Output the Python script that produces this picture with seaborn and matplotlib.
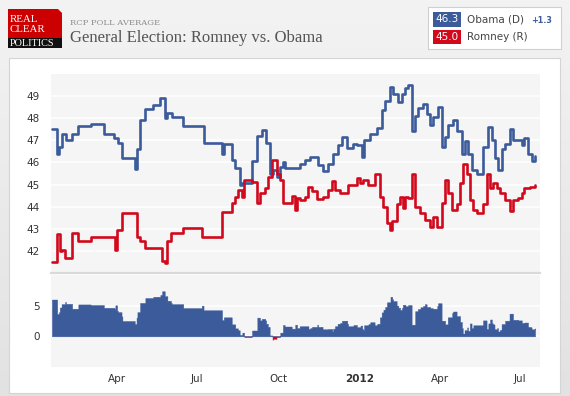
import numpy as np
import pandas as pd
import matplotlib
matplotlib.use("Agg")
import matplotlib.pyplot as plt
from matplotlib.patches import Rectangle, Polygon
import seaborn as sns

# RCP poll average, step breakpoints (date the value starts)
obama_dates = [
    "2011-01-17", "2011-01-23", "2011-01-25", "2011-01-28", "2011-02-02", "2011-02-09",
    "2011-02-16", "2011-03-02", "2011-03-17", "2011-03-29", "2011-04-02", "2011-04-06",
    "2011-04-21", "2011-04-24", "2011-04-27", "2011-05-03", "2011-05-12", "2011-05-20",
    "2011-05-25", "2011-05-28", "2011-06-02", "2011-06-15", "2011-07-08", "2011-07-29",
    "2011-07-31", "2011-08-09", "2011-08-13", "2011-08-18", "2011-08-21", "2011-09-01",
    "2011-09-07", "2011-09-12", "2011-09-17", "2011-09-21", "2011-09-25", "2011-09-29",
    "2011-10-03", "2011-10-06", "2011-10-08", "2011-10-25", "2011-10-31", "2011-11-06",
    "2011-11-15", "2011-11-20", "2011-11-26", "2011-12-02", "2011-12-07", "2011-12-12",
    "2011-12-18", "2011-12-25", "2011-12-29", "2012-01-04", "2012-01-06", "2012-01-13",
    "2012-01-21", "2012-01-26", "2012-01-30", "2012-02-05", "2012-02-08", "2012-02-14",
    "2012-02-18", "2012-02-22", "2012-02-25", "2012-02-29", "2012-03-04", "2012-03-07",
    "2012-03-13", "2012-03-17", "2012-03-21", "2012-03-24", "2012-03-30", "2012-04-03",
    "2012-04-07", "2012-04-10", "2012-04-16", "2012-04-20", "2012-04-26", "2012-04-29",
    "2012-05-03", "2012-05-07", "2012-05-13", "2012-05-20", "2012-05-26", "2012-05-30",
    "2012-06-02", "2012-06-06", "2012-06-10", "2012-06-14", "2012-06-19", "2012-06-23",
    "2012-07-03", "2012-07-06", "2012-07-10", "2012-07-14", "2012-07-18",
]
obama_vals = [
    47.5, 46.4, 46.7, 47.3, 47.0, 47.3,
    47.65, 47.75, 47.3, 47.1, 46.9, 46.2,
    45.7, 46.6, 47.9, 48.4, 48.6, 48.9,
    48.0, 48.25, 48.05, 47.65, 46.9, 46.4,
    46.85, 46.1, 45.75, 45.0, 45.05, 46.05,
    47.2, 47.45, 46.9, 45.5, 45.65, 45.35,
    45.8, 46.0, 45.75, 45.95, 46.1, 46.25,
    45.9, 45.6, 45.95, 46.4, 46.8, 47.15,
    46.65, 46.85, 46.8, 46.25, 47.0, 47.3,
    47.55, 48.35, 48.8, 49.4, 49.1, 48.75,
    49.1, 49.35, 49.5, 47.4, 48.1, 48.45,
    48.65, 48.2, 47.7, 48.05, 48.5, 46.7,
    47.15, 47.7, 47.9, 47.4, 46.4, 46.95,
    46.4, 45.65, 45.5, 46.7, 47.6, 47.0,
    46.2, 45.65, 46.6, 46.85, 47.5, 47.0,
    46.8, 47.1, 46.4, 46.05, 46.3,
]
romney_dates = [
    "2011-01-17", "2011-01-23", "2011-01-26", "2011-01-28", "2011-02-01", "2011-02-09",
    "2011-02-16", "2011-03-02", "2011-03-30", "2011-04-01", "2011-04-07", "2011-04-23",
    "2011-04-27", "2011-05-03", "2011-05-22", "2011-05-25", "2011-05-28", "2011-06-01",
    "2011-06-15", "2011-07-06", "2011-07-29", "2011-08-09", "2011-08-13", "2011-08-16",
    "2011-08-21", "2011-08-23", "2011-09-01", "2011-09-07", "2011-09-10", "2011-09-16",
    "2011-09-19", "2011-09-24", "2011-09-29", "2011-10-03", "2011-10-06", "2011-10-16",
    "2011-10-20", "2011-10-22", "2011-10-25", "2011-10-31", "2011-11-04", "2011-11-08",
    "2011-11-14", "2011-11-20", "2011-11-26", "2011-12-01", "2011-12-04", "2011-12-10",
    "2011-12-19", "2011-12-29", "2012-01-02", "2012-01-05", "2012-01-11", "2012-01-18",
    "2012-01-24", "2012-01-28", "2012-02-01", "2012-02-05", "2012-02-07", "2012-02-12",
    "2012-02-16", "2012-02-19", "2012-02-22", "2012-02-25", "2012-02-29", "2012-03-04",
    "2012-03-10", "2012-03-15", "2012-03-21", "2012-03-24", "2012-03-29", "2012-04-03",
    "2012-04-07", "2012-04-10", "2012-04-15", "2012-04-20", "2012-04-24", "2012-04-27",
    "2012-05-02", "2012-05-05", "2012-05-09", "2012-05-13", "2012-05-20", "2012-05-24",
    "2012-05-28", "2012-05-31", "2012-06-05", "2012-06-08", "2012-06-14", "2012-06-19",
    "2012-06-23", "2012-06-29", "2012-07-03", "2012-07-06", "2012-07-12", "2012-07-18",
]
romney_vals = [
    41.5, 42.75, 42.0, 42.05, 41.7, 42.8,
    42.45, 42.65, 42.05, 42.95, 43.7, 42.65,
    42.45, 42.15, 41.55, 41.45, 42.45, 42.8,
    43.05, 42.65, 43.75, 44.15, 44.45, 44.75,
    44.45, 45.2, 45.1, 44.15, 44.6, 44.85,
    45.35, 46.1, 45.5, 45.2, 44.15, 44.5,
    43.85, 44.4, 44.3, 44.45, 44.9, 44.7,
    44.35, 44.45, 44.75, 45.15, 44.75, 44.6,
    45.0, 45.3, 45.05, 45.2, 45.0, 45.5,
    44.45, 44.0, 43.25, 42.95, 43.35, 44.1,
    44.45, 43.95, 44.45, 44.4, 45.5, 44.0,
    43.7, 43.4, 43.1, 43.55, 43.1, 44.15,
    45.2, 44.6, 43.85, 44.1, 45.05, 45.95,
    45.5, 44.3, 43.85, 43.7, 44.1, 45.5,
    44.85, 45.05, 44.85, 44.6, 44.3, 43.8,
    44.3, 44.4, 44.6, 44.85, 44.9, 45.0,
]

tick_dates = ["2011-04-01", "2011-07-01", "2011-10-01", "2012-01-01", "2012-04-01", "2012-07-01"]
tick_labels = ["Apr", "Jul", "Oct", "2012", "Apr", "Jul"]
main_yticks = [42, 43, 44, 45, 46, 47, 48, 49]
spread_yticks = [0, 5]
obama_label, obama_last = "Obama (D)", "46.3"
romney_label, romney_last = "Romney (R)", "45.0"
lead_text = "+1.3"

BLUE = "#3b5b9b"
RED = "#d2091c"
PANEL = "#f5f5f5"

sns.set_style("white")
plt.rcParams["font.family"] = ["DejaVu Sans"]

W, H = 570, 396
fig = plt.figure(figsize=(W / 100, H / 100), dpi=100)


def frac(x0, y0, x1, y1):
    # pixel box (top-left origin) -> figure fraction rect
    return [x0 / W, 1 - y1 / H, (x1 - x0) / W, (y1 - y0) / H]


# background: gradient header + white content box
bg = fig.add_axes([0, 0, 1, 1], zorder=-5)
grad = np.linspace(0, 1, 200).reshape(-1, 1)
bg.imshow(grad, aspect="auto", cmap=matplotlib.colors.LinearSegmentedColormap.from_list(
    "g", ["#f3f3f3", "#e2e2e2"]), extent=[0, W, H, 0])
bg.add_patch(Rectangle((9, 58), 551, 335, facecolor="white", edgecolor="#d4d4d4", lw=0.8))
bg.set_xlim(0, W)
bg.set_ylim(H, 0)
bg.axis("off")

ob = pd.DataFrame({"date": pd.to_datetime(obama_dates), "val": obama_vals})
rm = pd.DataFrame({"date": pd.to_datetime(romney_dates), "val": romney_vals})
xmin, xmax = pd.Timestamp("2011-01-16"), pd.Timestamp("2012-07-23 14:00")

# main panel
ax = fig.add_axes(frac(51, 74, 540, 273))
ax.set_facecolor(PANEL)
sns.lineplot(data=ob, x="date", y="val", color=BLUE, lw=1.9, drawstyle="steps-post", ax=ax)
sns.lineplot(data=rm, x="date", y="val", color=RED, lw=1.9, drawstyle="steps-post", ax=ax)
ax.set_ylim(41, 50)
ax.set_xlim(xmin, xmax)
ax.set_yticks(main_yticks)
ax.set_xticks([])
ax.grid(axis="y", color="white", lw=1.1)
ax.set_axisbelow(True)
ax.tick_params(axis="y", length=0, pad=8, labelsize=7.5, labelcolor="#333333")
ax.set_xlabel("")
ax.set_ylabel("")
for s in ["top", "left", "right"]:
    ax.spines[s].set_visible(False)
ax.spines["bottom"].set_color("#d9d9d9")
ax.spines["bottom"].set_linewidth(1.6)

# spread panel (Obama minus Romney, daily)
days = pd.date_range(ob["date"].min(), ob["date"].max(), freq="D")
ob_d = ob.set_index("date")["val"].reindex(days, method="ffill")
rm_d = rm.set_index("date")["val"].reindex(days, method="ffill")
spread = (ob_d - rm_d).values

ax2 = fig.add_axes(frac(51, 275, 540, 367))
ax2.set_facecolor(PANEL)
ax2.fill_between(days, np.clip(spread, 0, None), 0, color=BLUE, step="post", lw=0.3,
                 edgecolor=BLUE)
ax2.fill_between(days, np.clip(spread, None, 0), 0, color=RED, step="post", lw=0)
ax2.set_ylim(-5, 10)
ax2.set_xlim(xmin, xmax)
ax2.set_yticks(spread_yticks)
ax2.grid(axis="y", color="white", lw=1.1)
ax2.set_axisbelow(True)
ax2.set_xticks(pd.to_datetime(tick_dates))
ax2.set_xticklabels(tick_labels)
ax2.tick_params(axis="both", length=0, labelsize=7.5, labelcolor="#333333")
ax2.tick_params(axis="y", pad=8)
ax2.tick_params(axis="x", pad=5)
for lbl in ax2.get_xticklabels():
    if lbl.get_text() == "2012":
        lbl.set_fontweight("bold")
for s in ax2.spines.values():
    s.set_visible(False)

# header overlay in pixel coordinates
hd = fig.add_axes([0, 0, 1, 1], zorder=5)
hd.set_xlim(0, W)
hd.set_ylim(H, 0)
hd.axis("off")
hd.patch.set_alpha(0)

hd.add_patch(Polygon([(8, 9), (58, 9), (62, 13), (62, 38), (8, 38)], closed=True,
                     facecolor="#cc0000", lw=0))
hd.add_patch(Rectangle((8, 38), 54, 10, facecolor="#111111", lw=0))
logo_font = dict(family="Liberation Serif", color="white", va="center", ha="left")
hd.text(9.5, 19.5, "REAL", fontsize=7.8, **logo_font)
hd.text(9.5, 30, "CLEAR", fontsize=7.8, **logo_font)
hd.text(9.5, 43.2, "POLITICS", fontsize=7.4, **logo_font)

hd.text(70, 23, "RCP POLL AVERAGE", family="DejaVu Serif", fontsize=6, color="#8c8c8c",
        va="center", ha="left")
hd.text(70, 38.5, "General Election: Romney vs. Obama", family="Liberation Serif",
        fontsize=12, color="#555555", va="center", ha="left")

# legend box
hd.add_patch(Rectangle((428, 7), 133, 42, facecolor="white", edgecolor="#d0d0d0", lw=0.8))
hd.add_patch(Rectangle((433, 12), 28, 15, facecolor=BLUE, lw=0))
hd.add_patch(Rectangle((433, 30), 28, 14, facecolor=RED, lw=0))
hd.text(447, 19.5, obama_last, color="white", fontsize=7.5, ha="center", va="center")
hd.text(447, 37, romney_last, color="white", fontsize=7.5, ha="center", va="center")
hd.text(467, 19.5, obama_label, color="#444444", fontsize=7.5, ha="left", va="center")
hd.text(531, 20.5, lead_text, color=BLUE, fontsize=5.8, fontweight="bold", ha="left", va="center")
hd.text(467, 37, romney_label, color="#444444", fontsize=7.5, ha="left", va="center")

fig.savefig("out.png", dpi=100)
